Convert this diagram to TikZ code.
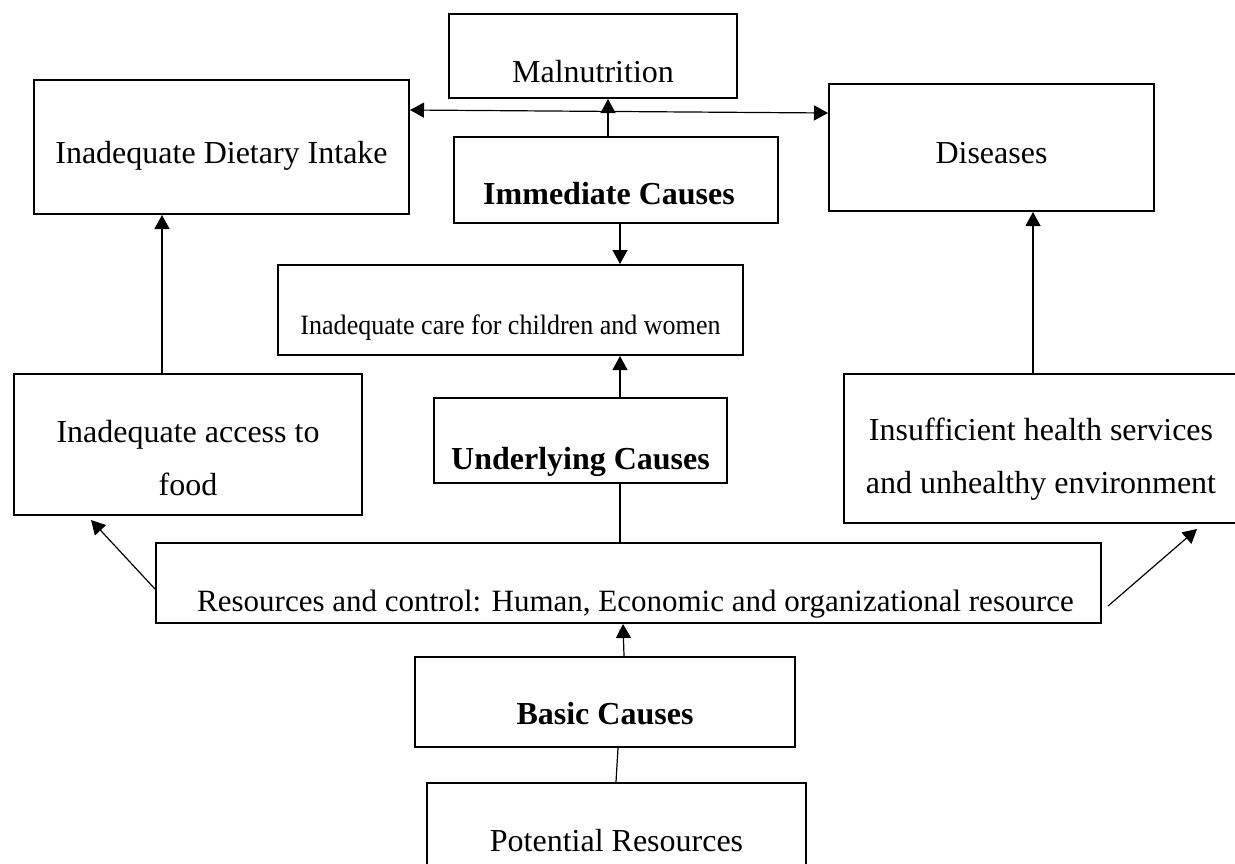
\documentclass[tikz,border=0pt]{standalone}
\usepackage{fontspec}
\usepackage{graphicx}
\setmainfont{Liberation Serif}
\usetikzlibrary{arrows.meta,calc}
\tikzset{
  box/.style={draw, line width=1pt, inner sep=0pt, minimum height=0pt, anchor=north west,
    font=\fontsize{16}{26.5}\selectfont},
  geom/.style n args={3}{minimum width=#1, text height=#2, text depth=#3},
  arr/.style={line width=0.6pt, -{Triangle[length=7pt,width=7.5pt]}},
  dbl/.style={line width=0.6pt, {Triangle[length=7pt,width=7.5pt]}-{Triangle[length=7pt,width=7.5pt]}},
  ln/.style={line width=0.6pt}
}
\begin{document}
\begin{tikzpicture}[x=0.5pt,y=-0.5pt]
\useasboundingbox (0,0) rectangle (1235,863);
\fill[white] (0,0) rectangle (1235,863);
\clip (0,0) rectangle (1235,863);
% boxes
\node[box, geom={144pt}{34pt}{8pt}] (mal) at (448,13) {Malnutrition};
\node[box, geom={187.5pt}{41.5pt}{25.5pt}] (diet) at (33,79) {Inadequate Dietary Intake};
\node[box, geom={162.5pt}{39.5pt}{24pt}] (dis) at (828,83) {Diseases};
\node[box, geom={162pt}{33.5pt}{9.5pt}] (imm) at (453,136) {\bfseries Immediate Causes\hspace*{7pt}};
\node[box, geom={232.5pt}{34.5pt}{10.5pt}, font=\fontsize{14}{17}\selectfont] (care) at (277,264) {\scalebox{0.93}[1]{Inadequate care for children and women}};
\node[box, geom={174pt}{34pt}{36.5pt}] (acc) at (13,373) {\begin{tabular}[t]{@{}c@{}}Inadequate access to\\food\end{tabular}};
\node[box, geom={146.5pt}{35.5pt}{7pt}] (und) at (433,397) {\bfseries Underlying Causes};
\node[box, geom={197pt}{33pt}{41.5pt}] (ins) at (843,373) {\begin{tabular}[t]{@{}c@{}}Insufficient health services\\and unhealthy environment\end{tabular}};
\node[box, geom={472.5pt}{34pt}{6pt}, font=\fontsize{15.5}{18}\selectfont] (res) at (155,542) {\hspace*{7pt}Resources and control: Human, Economic and organizational resource};
\node[box, geom={190pt}{33.5pt}{11.5pt}] (bas) at (414,656) {\bfseries Basic Causes};
\node[box, geom={189.5pt}{34pt}{25pt}] (pot) at (426,782) {Potential Resources};
% helper coordinates
\coordinate (x608) at (608,0);
\coordinate (x620) at (620,0);
\coordinate (x162) at (162,0);
\coordinate (x1033) at (1033,0);
\coordinate (x623) at (623,0);
\coordinate (x624) at (624,0);
\coordinate (x616) at (616,0);
\coordinate (x618) at (618,0);
\coordinate (y110) at (0,110);
\coordinate (y113) at (0,113);
\coordinate (y589) at (0,589);
\coordinate (rs) at (1108,606);
% connectors
\draw[dbl] (diet.east |- y110) -- (dis.west |- y113);
\draw[arr] (x608 |- imm.north) -- (x608 |- mal.south);
\draw[arr] (x620 |- imm.south) -- (x620 |- care.north);
\draw[arr] (x620 |- und.north) -- (x620 |- care.south);
\draw[arr] (x162 |- acc.north) -- (x162 |- diet.south);
\draw[arr] (x1033 |- ins.north) -- (x1033 |- dis.south);
\draw[ln] (x620 |- res.north) -- (x620 |- und.south);
\draw[arr] (res.west |- y589) -- ($(acc.south west)+(78,4)$);
\draw[arr] (rs) -- ($(ins.south west)+(354,5)$);
\draw[arr] (x624 |- bas.north) -- (x623 |- res.south);
\draw[ln] (x616 |- pot.north) -- (x618 |- bas.south);
\end{tikzpicture}
\end{document}
